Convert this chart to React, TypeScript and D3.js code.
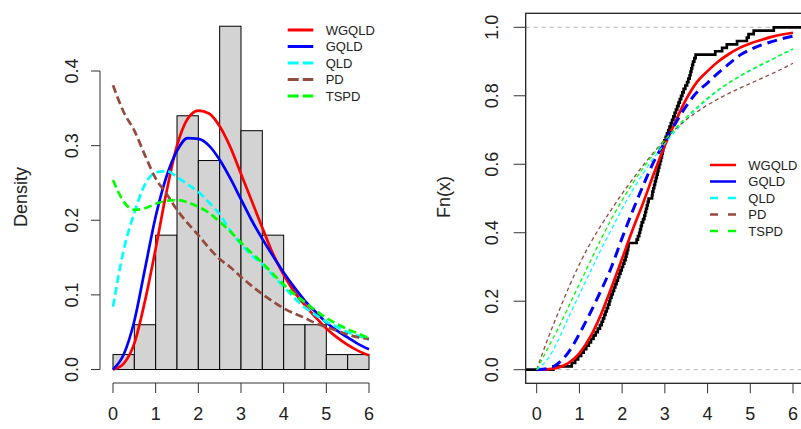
import React from 'react';
import * as d3 from 'd3';

// ---------- data ----------
const gridX = [0, 0.25, 0.5, 0.75, 1, 1.25, 1.5, 1.75, 2, 2.25, 2.5, 2.75, 3, 3.25, 3.5, 3.75, 4, 4.25, 4.5, 4.75, 5, 5.25, 5.5, 5.75, 6];

// fitted densities (left panel)
const densWGQLD = [0, 0.008, 0.035, 0.092, 0.162, 0.237, 0.3, 0.336, 0.347, 0.343, 0.326, 0.298, 0.262, 0.226, 0.19, 0.155, 0.127, 0.104, 0.086, 0.07, 0.055, 0.043, 0.033, 0.025, 0.019];
const densGQLD = [0, 0.02, 0.065, 0.135, 0.205, 0.258, 0.293, 0.31, 0.309, 0.3, 0.281, 0.256, 0.228, 0.2, 0.175, 0.152, 0.13, 0.11, 0.092, 0.077, 0.063, 0.052, 0.043, 0.034, 0.027];
const densQLD = [0.084, 0.16, 0.21, 0.248, 0.264, 0.266, 0.258, 0.248, 0.238, 0.224, 0.208, 0.186, 0.168, 0.153, 0.141, 0.126, 0.111, 0.096, 0.083, 0.073, 0.064, 0.057, 0.05, 0.045, 0.04];
const densPD = [0.381, 0.345, 0.32, 0.287, 0.256, 0.236, 0.214, 0.196, 0.18, 0.163, 0.148, 0.137, 0.124, 0.112, 0.101, 0.091, 0.082, 0.075, 0.069, 0.062, 0.057, 0.052, 0.047, 0.043, 0.041];
const densTSPD = [0.254, 0.225, 0.214, 0.216, 0.222, 0.226, 0.227, 0.224, 0.218, 0.21, 0.198, 0.185, 0.17, 0.156, 0.143, 0.128, 0.114, 0.101, 0.09, 0.079, 0.069, 0.061, 0.054, 0.048, 0.042];

// fitted CDFs (right panel)
const cdfWGQLD = [0, 0.001, 0.006, 0.02, 0.048, 0.095, 0.16, 0.24, 0.325, 0.41, 0.49, 0.575, 0.655, 0.725, 0.79, 0.84, 0.872, 0.9, 0.922, 0.94, 0.953, 0.963, 0.972, 0.979, 0.984];
const cdfGQLD = [0, 0.003, 0.018, 0.052, 0.105, 0.165, 0.23, 0.3, 0.385, 0.465, 0.54, 0.61, 0.665, 0.72, 0.77, 0.81, 0.838, 0.867, 0.893, 0.918, 0.935, 0.948, 0.958, 0.967, 0.974];
const cdfQLD = [0, 0.03, 0.085, 0.155, 0.22, 0.285, 0.35, 0.41, 0.47, 0.525, 0.575, 0.62, 0.66, 0.697, 0.731, 0.762, 0.79, 0.815, 0.837, 0.856, 0.873, 0.889, 0.905, 0.921, 0.936];
const cdfPD = [0, 0.087, 0.165, 0.24, 0.308, 0.368, 0.42, 0.468, 0.514, 0.557, 0.598, 0.636, 0.672, 0.703, 0.73, 0.753, 0.773, 0.791, 0.807, 0.822, 0.836, 0.85, 0.864, 0.879, 0.895];
const cdfTSPD = [0, 0.06, 0.12, 0.185, 0.25, 0.315, 0.38, 0.44, 0.495, 0.545, 0.59, 0.632, 0.67, 0.705, 0.737, 0.766, 0.793, 0.817, 0.838, 0.857, 0.875, 0.891, 0.906, 0.922, 0.937];

// observed sample (n = 100)
const sample = [
  0.39,
  0.82, 0.9, 0.97,
  1.04, 1.1, 1.16, 1.22, 1.27, 1.33, 1.38, 1.43, 1.48,
  1.52, 1.55, 1.58, 1.61, 1.64, 1.67, 1.7, 1.72, 1.75, 1.78, 1.81, 1.84, 1.87, 1.9, 1.93, 1.96, 1.99,
  2.02, 2.05, 2.08, 2.1, 2.12, 2.14, 2.15, 2.34, 2.37, 2.4, 2.42, 2.44, 2.46, 2.49,
  2.52, 2.54, 2.56, 2.58, 2.6, 2.62, 2.7, 2.71, 2.73, 2.75, 2.77, 2.79, 2.81, 2.83, 2.85, 2.87, 2.89, 2.91, 2.93, 2.95, 2.96, 2.98, 2.99,
  3.02, 3.05, 3.08, 3.11, 3.14, 3.17, 3.2, 3.23, 3.26, 3.29, 3.32, 3.35, 3.38, 3.41, 3.44, 3.48,
  3.52, 3.55, 3.58, 3.6, 3.62, 3.64, 3.66, 3.69, 3.72,
  4.18, 4.34, 4.45,
  4.69, 4.92, 4.96,
  5.08,
  5.55,
];

const breaks = [0, 0.5, 1, 1.5, 2, 2.5, 3, 3.5, 4, 4.5, 5, 5.5, 6];
const xTicks = [0, 1, 2, 3, 4, 5, 6];
const yTicksLeft = [0, 0.1, 0.2, 0.3, 0.4];
const yTicksRight = [0, 0.2, 0.4, 0.6, 0.8, 1];
const seriesNames = ['WGQLD', 'GQLD', 'QLD', 'PD', 'TSPD'];

// ---------- styles ----------
const colors = ['#ff0000', '#0000ff', '#00ffff', '#944a3c', '#00ff00'];
const leftDash = [null, null, '8,4', '8,4', '8,4'];
const rightDash = [null, '10,6', '4,3', '4,3', '4,3'];
const rightWidth = [2.7, 3, 1.3, 1.3, 1.3];
const FONT = '"Liberation Sans", Arial, Helvetica, sans-serif';

export default function App() {
  const densSeries = [densWGQLD, densGQLD, densQLD, densPD, densTSPD];
  const cdfSeries = [cdfWGQLD, cdfGQLD, cdfQLD, cdfPD, cdfTSPD];

  // left panel scales
  const xL = d3.scaleLinear().domain([0, 6]).range([113, 369]);
  const yL = d3.scaleLinear().domain([0, 0.4]).range([369.5, 71]);
  // right panel scales
  const xR = d3.scaleLinear().domain([0, 6]).range([536.7, 793]);
  const yR = d3.scaleLinear().domain([0, 1]).range([369.7, 27.3]);

  const n = sample.length;
  const bars = d3.range(breaks.length - 1).map((i) => {
    const a = breaks[i], b = breaks[i + 1];
    const c = sample.filter((v) => (i === 0 ? v >= a : v > a) && v <= b).length;
    return { a, b, d: c / (n * (b - a)) };
  });

  const lineL = (ys: number[]) =>
    d3.line<number>().x((_, i) => xL(gridX[i])).y((v) => yL(v)).curve(d3.curveMonotoneX)(ys) || '';
  const lineR = (ys: number[]) =>
    d3.line<number>().x((_, i) => xR(gridX[i])).y((v) => yR(v)).curve(d3.curveMonotoneX)(ys) || '';

  const sorted = [...sample].sort((a, b) => a - b);
  const boxL = 525.7, boxR = 803, boxT = 13.3, boxB = 383.3;
  const ecdfPts: [number, number][] = [[xR.invert(boxL - 2), 0]];
  sorted.forEach((v, i) => ecdfPts.push([v, (i + 1) / n]));
  ecdfPts.push([xR.invert(boxR + 5), 1]);
  const ecdfPath = d3.line<[number, number]>().x((p) => xR(p[0])).y((p) => yR(p[1])).curve(d3.curveStepAfter)(ecdfPts) || '';

  const fs = 18;
  const legFs = 13;

  return (
    <svg width={801} height={429} style={{ position: 'absolute', left: 0, top: 0, background: '#fff' }} fontFamily={FONT}>
      <rect x={0} y={0} width={801} height={429} fill="#fff" />
      {/* ---------------- LEFT PANEL ---------------- */}
      {bars.map((b, i) => (
        <rect key={i} x={xL(b.a)} y={yL(b.d)} width={xL(b.b) - xL(b.a)} height={yL(0) - yL(b.d)} fill="#d3d3d3" stroke="#000" strokeWidth={1} />
      ))}
      {densSeries.map((s, i) => (
        <path key={i} d={lineL(s)} fill="none" stroke={colors[i]} strokeWidth={2.7} strokeDasharray={leftDash[i] || undefined} />
      ))}
      {/* y axis */}
      <line x1={100} x2={100} y1={yL(0)} y2={yL(0.4)} stroke="#333" strokeWidth={1} />
      {yTicksLeft.map((t) => (
        <g key={t}>
          <line x1={91} x2={100} y1={yL(t)} y2={yL(t)} stroke="#333" />
          <text transform={`translate(${78},${yL(t)}) rotate(-90)`} textAnchor="middle" fontSize={fs} fill="#222">{t.toFixed(1)}</text>
        </g>
      ))}
      <text transform={`translate(26.5,197) rotate(-90)`} textAnchor="middle" fontSize={fs} fill="#222">Density</text>
      {/* x axis */}
      <line x1={xL(0)} x2={xL(6)} y1={383} y2={383} stroke="#333" />
      {xTicks.map((t) => (
        <g key={t}>
          <line x1={xL(t)} x2={xL(t)} y1={383} y2={393} stroke="#333" />
          <text x={xL(t)} y={420} textAnchor="middle" fontSize={fs} fill="#222">{t}</text>
        </g>
      ))}
      {/* legend */}
      {seriesNames.map((nm, i) => {
        const y = 30 + i * 16.5;
        return (
          <g key={nm}>
            <line x1={287.7} x2={313.3} y1={y} y2={y} stroke={colors[i]} strokeWidth={3} strokeDasharray={i >= 2 ? '11,4' : undefined} />
            <text x={325.7} y={y + 4.6} fontSize={legFs} fill="#222">{nm}</text>
          </g>
        );
      })}

      {/* ---------------- RIGHT PANEL ---------------- */}
      <defs>
        <clipPath id="clipR">
          <rect x={boxL} y={boxT} width={boxR - boxL} height={boxB - boxT} />
        </clipPath>
      </defs>
      <g clipPath="url(#clipR)">
        {[0, 1].map((h) => (
          <line key={h} x1={boxL} x2={boxR} y1={yR(h)} y2={yR(h)} stroke="#b3b3b3" strokeWidth={1} strokeDasharray="4,4" />
        ))}
        <path d={ecdfPath} fill="none" stroke="#000" strokeWidth={2.7} />
        {cdfSeries.map((s, i) => (
          <path key={i} d={lineR(s)} fill="none" stroke={colors[i]} strokeWidth={rightWidth[i]} strokeDasharray={rightDash[i] || undefined} />
        ))}
      </g>
      <rect x={boxL} y={boxT} width={boxR - boxL} height={boxB - boxT} fill="none" stroke="#222" strokeWidth={1.3} />
      {yTicksRight.map((t) => (
        <g key={t}>
          <line x1={boxL - 12} x2={boxL} y1={yR(t)} y2={yR(t)} stroke="#333" />
          <text transform={`translate(${497.5},${yR(t)}) rotate(-90)`} textAnchor="middle" fontSize={fs} fill="#222">{t.toFixed(1)}</text>
        </g>
      ))}
      <text transform={`translate(449.5,197) rotate(-90)`} textAnchor="middle" fontSize={fs} fill="#222">Fn(x)</text>
      {xTicks.map((t) => (
        <g key={t}>
          <line x1={xR(t)} x2={xR(t)} y1={boxB} y2={boxB + 10} stroke="#333" />
          <text x={xR(t)} y={420} textAnchor="middle" fontSize={fs} fill="#222">{t}</text>
        </g>
      ))}
      {seriesNames.map((nm, i) => {
        const y = 165 + i * 16.5;
        return (
          <g key={nm}>
            <line x1={710} x2={736} y1={y} y2={y} stroke={colors[i]} strokeWidth={2.5} strokeDasharray={i >= 2 ? '8,10' : undefined} />
            <text x={748.3} y={y + 4.6} fontSize={legFs} fill="#222">{nm}</text>
          </g>
        );
      })}
    </svg>
  );
}
